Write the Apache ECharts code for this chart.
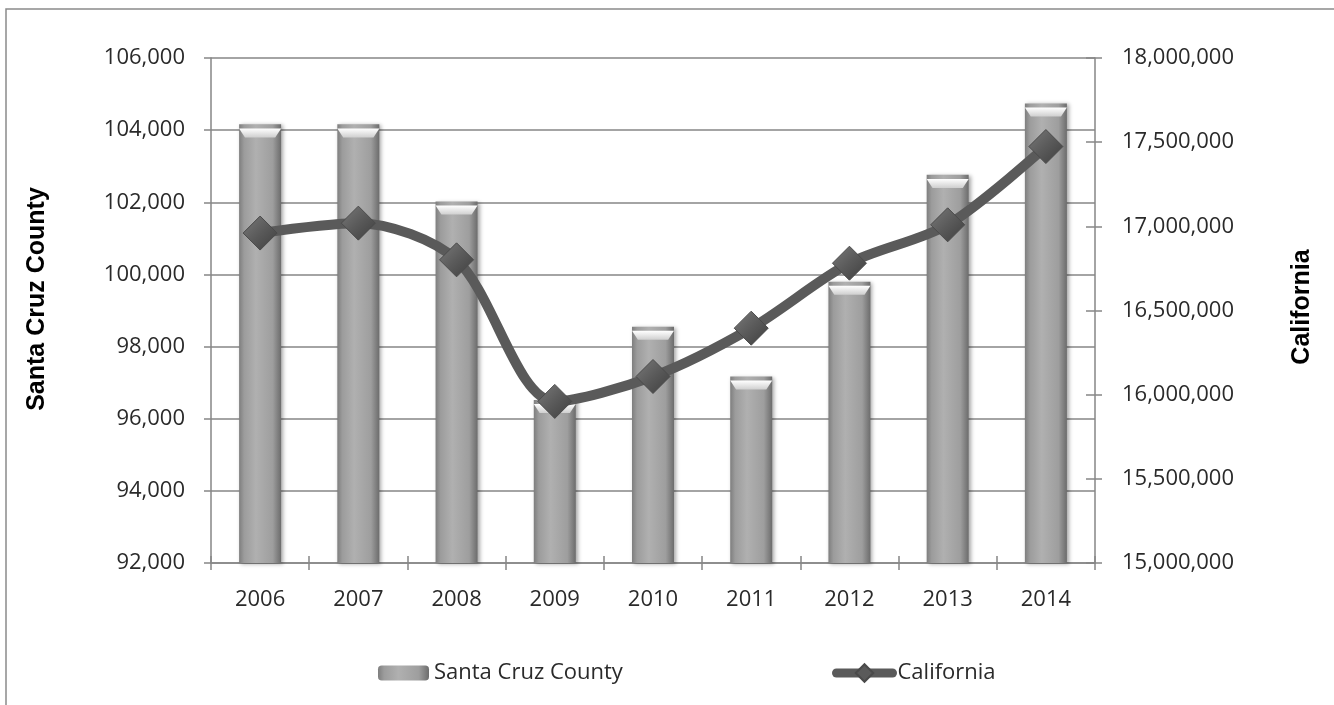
<!DOCTYPE html>
<html>
<head>
<meta charset="utf-8">
<script src="https://cdn.jsdelivr.net/npm/echarts@6/dist/echarts.min.js"></script>
<style>
html,body{margin:0;padding:0;background:#fff;}
#chart{width:1334px;height:705px;}
</style>
</head>
<body>
<div id="chart"></div>
<script>
const years = ['2006','2007','2008','2009','2010','2011','2012','2013','2014'];
const santaCruz = [104160, 104160, 102020, 96520, 98550, 97170, 99800, 102760, 104740];
const california = [16960000, 17019000, 16801000, 15960000, 16108000, 16395000, 16781000, 17009000, 17474000];
const leftTicks = {min: 92000, max: 106000, interval: 2000};
const rightTicks = {min: 15000000, max: 18000000, interval: 500000};

const fmt = v => Number(v).toLocaleString('en-US');
const FONT = '"Open Sans", "DejaVu Sans", sans-serif';
const AX = '#868686';
const TXT = '#2a2a2a';

const chart = echarts.init(document.getElementById('chart'));

const barGrad = new echarts.graphic.LinearGradient(0, 0, 1, 0, [
  {offset: 0, color: '#7e7e7e'},
  {offset: 0.12, color: '#9c9c9c'},
  {offset: 0.4, color: '#b0b0b0'},
  {offset: 0.8, color: '#9e9e9e'},
  {offset: 1, color: '#6c6c6c'}
]);
const bevelGrad = new echarts.graphic.LinearGradient(0, 0, 0, 1, [
  {offset: 0, color: '#ffffff'},
  {offset: 1, color: '#cfcfcf'}
]);
const diamondGrad = new echarts.graphic.LinearGradient(0, 0, 1, 1, [
  {offset: 0, color: '#7a7a7a'},
  {offset: 0.5, color: '#5a5a5a'},
  {offset: 1, color: '#3e3e3e'}
]);

const option = {
  backgroundColor: '#fff',
  animation: false,
  grid: {left: 211, right: 239, top: 58, bottom: 142, containLabel: false},
  graphic: [
    {type: 'rect', shape: {x: 6, y: 9, width: 1340, height: 710},
     style: {fill: 'none', stroke: '#8a8a8a', lineWidth: 1.5}, z: -10},
    {type: 'text', x: 37, y: 299, rotation: Math.PI / 2,
     style: {text: 'Santa Cruz County', font: 'bold 25px "Liberation Sans", Arial, sans-serif',
             fill: '#000', textAlign: 'center', textVerticalAlign: 'middle'}},
    {type: 'text', x: 1302, y: 307, rotation: Math.PI / 2,
     style: {text: 'California', font: 'bold 25px "Liberation Sans", Arial, sans-serif',
             fill: '#000', textAlign: 'center', textVerticalAlign: 'middle'}}
  ],
  legend: [
    {data: ['Santa Cruz County'], left: 373, top: 657, itemWidth: 51, itemHeight: 15,
     textStyle: {fontFamily: FONT, fontSize: 22, color: TXT}},
    {data: ['California'], left: 827, top: 657, itemWidth: 56, itemHeight: 22,
     textStyle: {fontFamily: FONT, fontSize: 22, color: TXT},
     lineStyle: {width: 9, color: '#5a5a5a', cap: 'round'},
     itemStyle: {color: '#5a5a5a'}}
  ],
  xAxis: [
    {type: 'category', data: years, boundaryGap: true,
     axisLine: {lineStyle: {color: AX, width: 1.5}},
     axisTick: {show: true, length: 7, inside: false, lineStyle: {color: AX, width: 1.5}},
     axisLabel: {fontFamily: FONT, fontSize: 22, color: TXT, margin: 26},
     splitLine: {show: false}},
    {type: 'category', data: years, boundaryGap: true, position: 'bottom',
     axisLine: {show: false},
     axisTick: {show: true, length: 7, inside: true, lineStyle: {color: AX, width: 1.5}},
     axisLabel: {show: false}, splitLine: {show: false}}
  ],
  yAxis: [
    {type: 'value', position: 'left', min: leftTicks.min, max: leftTicks.max, interval: leftTicks.interval,
     axisLine: {show: true, lineStyle: {color: AX, width: 1.5}},
     axisTick: {show: true, length: 7, lineStyle: {color: AX, width: 1.5}},
     axisLabel: {fontFamily: FONT, fontSize: 22, color: TXT, margin: 26, formatter: fmt},
     splitLine: {show: true, lineStyle: {color: AX, width: 1.5}}},
    {type: 'value', position: 'right', min: rightTicks.min, max: rightTicks.max, interval: rightTicks.interval,
     axisLine: {show: true, lineStyle: {color: AX, width: 1.5}},
     axisTick: {show: true, length: 7, lineStyle: {color: AX, width: 1.5}},
     axisLabel: {fontFamily: FONT, fontSize: 22, color: TXT, margin: 27, formatter: fmt},
     splitLine: {show: false}},
    {type: 'value', position: 'right', min: rightTicks.min, max: rightTicks.max, interval: rightTicks.interval,
     axisLine: {show: false},
     axisTick: {show: true, inside: true, length: 9, lineStyle: {color: AX, width: 1.5}},
     axisLabel: {show: false}, splitLine: {show: false}}
  ],
  series: [
    {name: 'Santa Cruz County', type: 'bar', data: santaCruz, xAxisIndex: 0, yAxisIndex: 0,
     barWidth: 42,
     itemStyle: {color: barGrad, shadowBlur: 4, shadowColor: 'rgba(0,0,0,0.35)', shadowOffsetX: 2, shadowOffsetY: 1}},
    {name: 'bevel', type: 'pictorialBar', data: santaCruz, xAxisIndex: 0, yAxisIndex: 0,
     symbol: 'path://M0,0 L100,0 L86,100 L14,100 Z', symbolPosition: 'end',
     symbolSize: [42, 9], symbolOffset: [0, '45%'], barGap: '-100%', z: 3,
     itemStyle: {color: bevelGrad}, silent: true, legendHoverLink: false},
    {name: 'California', type: 'line', data: california, xAxisIndex: 0, yAxisIndex: 1,
     smooth: 0.3, symbol: 'diamond', symbolSize: 34, z: 5,
     lineStyle: {color: '#5a5a5a', width: 10},
     itemStyle: {color: diamondGrad, borderColor: '#4a4a4a', borderWidth: 1}}
  ]
};
chart.setOption(option);
</script>
</body>
</html>
